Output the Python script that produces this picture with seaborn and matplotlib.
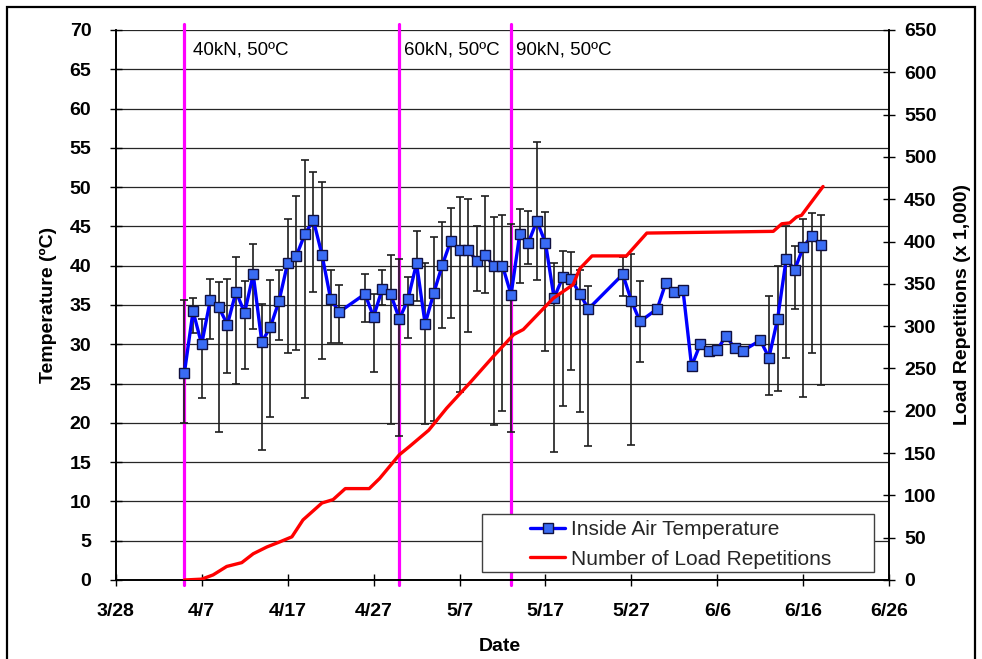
import datetime as dt

import matplotlib
matplotlib.use("Agg")
import matplotlib.pyplot as plt
from matplotlib.legend_handler import HandlerLine2D
from matplotlib.lines import Line2D
from matplotlib.patches import Rectangle
import numpy as np
import seaborn as sns

YEAR = 2006

# Daily inside air temperature (mean, with daily max / min as error bars)
temp_dates = [
    "4/5", "4/6", "4/7", "4/8", "4/9", "4/10", "4/11", "4/12", "4/13", "4/14",
    "4/15", "4/16", "4/17", "4/18", "4/19", "4/20", "4/21", "4/22", "4/23",
    "4/26", "4/27", "4/28", "4/29", "4/30", "5/1", "5/2", "5/3", "5/4", "5/5",
    "5/6", "5/7", "5/8", "5/9", "5/10", "5/11", "5/12", "5/13", "5/14", "5/15",
    "5/16", "5/17", "5/18", "5/19", "5/20", "5/21", "5/22",
    "5/26", "5/27", "5/28",
    "5/30", "5/31", "6/1", "6/2", "6/3", "6/4", "6/5", "6/6", "6/7", "6/8", "6/9",
    "6/11", "6/12", "6/13", "6/14", "6/15", "6/16", "6/17", "6/18",
]
temp_mean = [
    26.4, 34.2, 30.0, 35.6, 34.7, 32.5, 36.7, 34.0, 38.9, 30.3,
    32.2, 35.5, 40.3, 41.2, 44.0, 45.8, 41.4, 35.8, 34.1,
    36.4, 33.5, 37.0, 36.4, 33.2, 35.7, 40.3, 32.6, 36.5, 40.1,
    43.2, 42.0, 42.0, 40.6, 41.4, 39.9, 40.0, 36.3, 44.0, 42.9,
    45.7, 42.9, 35.9, 38.5, 38.3, 36.4, 34.5,
    38.9, 35.5, 32.9,
    34.5, 37.8, 36.7, 36.9, 27.2, 30.0, 29.1, 29.3, 31.1, 29.5, 29.2,
    30.5, 28.3, 33.2, 40.8, 39.5, 42.4, 43.8, 42.6,
]
nan = np.nan
temp_max = [
    35.6, 35.9, 33.2, 38.3, 37.9, 38.3, 41.1, 38.1, 42.7, 35.1,
    38.2, 39.5, 46.0, 48.9, 53.4, 51.9, 50.7, 39.4, 37.5,
    38.9, 36.4, 39.4, 41.4, 40.8, 38.6, 44.4, 40.4, 43.6, 45.5,
    47.4, 48.7, 48.5, 45.1, 48.9, 46.2, 46.5, 45.3, 47.2, 47.0,
    55.8, 46.8, 40.4, 41.9, 41.8, 39.4, 37.4,
    41.1, 41.5, 38.0,
    nan, nan, nan, nan, nan, nan, nan, nan, nan, nan, nan,
    nan, 36.1, 39.9, 45.0, 42.5, 46.0, 46.7, 46.5,
]
temp_min = [
    20.0, 31.4, 23.2, 30.7, 18.8, 26.4, 25.0, 26.9, 31.9, 16.6,
    20.7, 30.6, 28.9, 29.3, 23.1, 36.7, 28.1, 30.1, 30.2,
    32.8, 26.5, 35.0, 19.8, 18.3, 30.8, 35.5, 19.9, 20.2, 32.1,
    33.4, 23.9, 31.5, 36.8, 36.5, 19.7, 21.5, 18.8, 37.8, 40.2,
    38.2, 29.2, 16.3, 22.1, 26.7, 21.4, 17.0,
    36.2, 17.2, 27.8,
    nan, nan, nan, nan, nan, nan, nan, nan, nan, nan, nan,
    nan, 23.6, 24.1, 28.3, 34.5, 23.3, 28.9, 24.8,
]

# Cumulative number of load repetitions (x 1,000)
load_times = [
    "4/5 00:00", "4/7 00:00", "4/8 08:00", "4/9 22:00", "4/11 16:00",
    "4/13 00:00", "4/14 14:00", "4/16 02:00", "4/17 12:00", "4/18 19:00",
    "4/21 00:00", "4/22 07:00", "4/23 17:00", "4/26 12:00", "4/27 17:00",
    "4/30 00:00", "5/1 05:00", "5/3 10:00", "5/5 12:00", "5/8 05:00",
    "5/10 22:00", "5/13 07:00", "5/14 10:00", "5/17 22:00", "5/20 05:00",
    "5/21 00:00", "5/22 10:00", "5/26 10:00", "5/28 19:00", "6/12 12:00",
    "6/13 12:00", "6/14 10:00", "6/15 05:00", "6/15 19:00", "6/18 07:00",
]
load_reps = [
    0, 1, 6, 16, 20.5,
    31, 39, 45, 51, 71,
    91, 95, 108, 108, 120,
    148, 158, 177, 203, 233,
    264, 290, 296, 333, 349,
    368, 383, 383, 410, 412,
    421, 422, 429, 431, 465,
]

# Loading phases
phase_dates = ["4/5", "4/30", "5/13"]
phase_labels = ["40kN, 50ºC", "60kN, 50ºC", "90kN, 50ºC"]

date_ticks = ["3/28", "4/7", "4/17", "4/27", "5/7", "5/17", "5/27", "6/6", "6/16", "6/26"]
temp_ticks = list(range(0, 71, 5))
load_ticks = list(range(0, 651, 50))

series_names = ["Inside Air Temperature", "Number of Load Repetitions"]


def to_date(s):
    fmt = "%Y/%m/%d %H:%M" if ":" in s else "%Y/%m/%d"
    return dt.datetime.strptime(f"{YEAR}/{s}", fmt)


class RightAlignedLine(HandlerLine2D):
    """Legend handle that draws its sample only in the right part of the slot."""

    def __init__(self, frac=0.48, **kw):
        super().__init__(**kw)
        self.frac = frac

    def create_artists(self, legend, orig_handle, xdescent, ydescent,
                       width, height, fontsize, trans):
        w = width * self.frac
        return super().create_artists(legend, orig_handle,
                                      xdescent - (width - w), ydescent,
                                      w, height, fontsize, trans)


t_dates = [to_date(s) for s in temp_dates]
l_dates = [to_date(s) for s in load_times]
p_dates = [to_date(s) for s in phase_dates]
tick_dates = [to_date(s) for s in date_ticks]

mean = np.array(temp_mean)
err = np.vstack([mean - np.array(temp_min), np.array(temp_max) - mean])

sns.set_theme(style="white")
plt.rcParams["font.family"] = ["Liberation Sans", "DejaVu Sans"]

W, H = 982, 659
fig = plt.figure(figsize=(W / 100, H / 100), dpi=100)
ax = fig.add_axes([0.1178, 0.1199, 0.7878, 0.8346])
ax2 = ax.twinx()

# phase boundaries
for d in p_dates:
    ax.axvline(d, ymin=-0.01, ymax=1.01, color="#ff00ff", lw=2.3,
               clip_on=False, zorder=1.5)

ax.errorbar(t_dates, mean, yerr=err, fmt="none", ecolor="#1e1e1e",
            elinewidth=1.2, capsize=3.2, capthick=1.2, zorder=2)

sns.lineplot(x=t_dates, y=temp_mean, ax=ax, color="#0000ff", lw=2.4,
             marker="s", markersize=6.5, markerfacecolor="#3a6cf4",
             markeredgecolor="#101040", markeredgewidth=1.0,
             legend=False, zorder=3)

sns.lineplot(x=l_dates, y=load_reps, ax=ax2, color="#ff0000", lw=2.4,
             legend=False, zorder=3)

# axes ranges and ticks
ax.set_xlim(tick_dates[0], tick_dates[-1])
ax.set_ylim(0, 70)
ax2.set_ylim(0, 650)
ax.set_xticks(tick_dates)
ax.set_xticklabels(date_ticks)
ax.set_yticks(temp_ticks)
ax2.set_yticks(load_ticks)

ax.yaxis.grid(True, color="#262626", lw=0.9)
ax.xaxis.grid(False)
ax.set_axisbelow(True)

for a in (ax, ax2):
    for side in ("left", "right", "bottom"):
        a.spines[side].set_color("black")
        a.spines[side].set_linewidth(1.2)
    a.spines["top"].set_visible(False)

ax.tick_params(axis="y", which="major", left=True, direction="inout",
               length=9, width=1.0, color="black", pad=13,
               labelsize=14, labelcolor="black")
ax.tick_params(axis="x", which="major", bottom=True, direction="inout",
               length=9, width=1.0, color="black", pad=12,
               labelsize=14, labelcolor="black")
ax2.tick_params(axis="y", which="major", right=True, direction="inout",
                length=9, width=1.0, color="black", pad=6,
                labelsize=14, labelcolor="black")
for lbl in ax.get_xticklabels() + ax.get_yticklabels() + ax2.get_yticklabels():
    lbl.set_fontweight("bold")

ax.set_ylabel("Temperature (ºC)", fontsize=14, fontweight="bold", color="black")
ax.set_xlabel("Date", fontsize=14, fontweight="bold", color="black")
ax2.set_ylabel("Load Repetitions (x 1,000)", fontsize=14, fontweight="bold",
               color="black", rotation=90)
ax.yaxis.set_label_coords(-0.076, 0.5)
ax.xaxis.set_label_coords(0.497, -0.105)
ax2.yaxis.set_label_coords(1.084, 0.5)

# phase annotations
label_offsets = [6.5, 3.0, 3.6]
for d, txt, off in zip(p_dates, phase_labels, label_offsets):
    ax.annotate(txt, xy=(d, 1.0), xycoords=("data", "axes fraction"),
                xytext=(off, -14.4), textcoords="offset points",
                ha="left", va="center", fontsize=13.5, color="black")

# legend: white box with the entries inside
box = Rectangle((482 / W, 1 - 572 / H), (874 - 482) / W, (572 - 514) / H,
                transform=fig.transFigure, facecolor="white",
                edgecolor="#404040", lw=1.0, zorder=4.5, clip_on=False)
ax2.add_artist(box)

handles = [
    Line2D([], [], color="#0000ff", lw=2.4, marker="s", markersize=6.5,
           markerfacecolor="#3a6cf4", markeredgecolor="#101040",
           markeredgewidth=1.0),
    Line2D([], [], color="#ff0000", lw=2.4),
]
leg = ax2.legend(handles, series_names,
                 loc="upper left", bbox_to_anchor=(488 / W, 1 - 516 / H),
                 bbox_transform=fig.transFigure, borderaxespad=0,
                 fontsize=15, frameon=False, handlelength=3.5,
                 handletextpad=0.3, labelspacing=0.5, borderpad=0.2,
                 handler_map={Line2D: RightAlignedLine(frac=0.48)})
leg.set_zorder(5)

# outer frame of the figure
fig.add_artist(Rectangle((7 / W, -0.02), (975 - 7) / W, 1 - 7 / H + 0.02,
                         transform=fig.transFigure, fill=False,
                         edgecolor="black", lw=1.6))

fig.savefig("out.png", dpi=100)
